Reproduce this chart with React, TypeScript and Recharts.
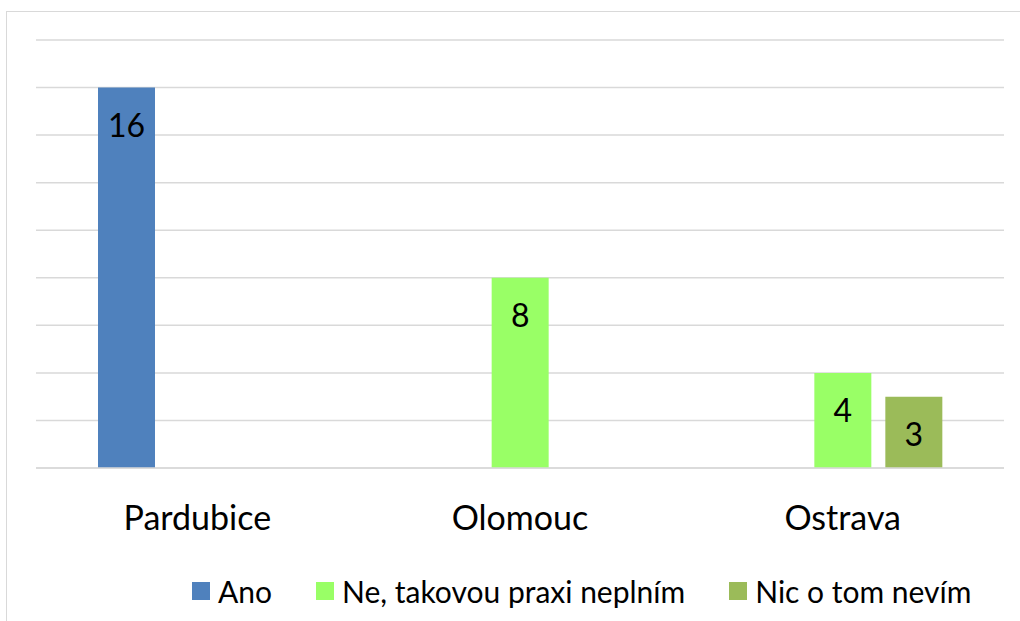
import React from 'react';
import { BarChart, Bar, XAxis, YAxis, CartesianGrid, Legend, LabelList } from 'recharts';

const categories = ['Pardubice', 'Olomouc', 'Ostrava'];
const anoValues = [16, null, null];
const neValues = [null, 8, 4];
const nicValues = [null, null, 3];
const yTicks = [0, 2, 4, 6, 8, 10, 12, 14, 16, 18];

const seriesNames = ['Ano', 'Ne, takovou praxi neplním', 'Nic o tom nevím'];
const seriesKeys = ['ano', 'ne', 'nic'];
const seriesColors = ['#4F81BD', '#99FF66', '#9BBB59'];

const data = categories.map((name, i) => ({
  name,
  ano: anoValues[i],
  ne: neValues[i],
  nic: nicValues[i],
}));

const FONT = 'Lato, "Liberation Sans", sans-serif';

const ValueLabel = (props: any) => {
  const { x, y, width, value } = props;
  if (value === null || value === undefined) return null;
  return (
    <text x={x + width / 2} y={y + 49} textAnchor="middle" fontSize={32} fontFamily={FONT} fill="#000">
      {value}
    </text>
  );
};

const CategoryTick = (props: any) => {
  const { x, y, payload } = props;
  return (
    <text x={x} y={y + 54} textAnchor="middle" fontSize={34} fontFamily={FONT} fill="#000">
      {payload.value}
    </text>
  );
};

const LegendContent = () => (
  <div
    style={{
      display: 'flex',
      alignItems: 'center',
      paddingLeft: 192,
      fontFamily: FONT,
      fontSize: 30,
      height: 40,
      width: 1020,
      boxSizing: 'border-box',
      whiteSpace: 'nowrap',
    }}
  >
    {seriesNames.map((n, i) => (
      <div key={n} style={{ display: 'flex', alignItems: 'center', marginRight: 44, flexShrink: 0 }}>
        <span style={{ display: 'inline-block', width: 18, height: 18, background: seriesColors[i], marginRight: 8 }} />
        <span style={{ color: '#000' }}>{n}</span>
      </div>
    ))}
  </div>
);

export default function App() {
  return (
    <div style={{ position: 'absolute', left: 0, top: 0, width: 1020, height: 621, overflow: 'hidden', background: '#fff' }}>
      <div style={{ position: 'absolute', left: 6, top: 11, width: 1100, height: 700, border: '1px solid #D9D9D9' }} />
      <BarChart
        width={1020}
        height={621}
        data={data}
        margin={{ top: 40, right: 16, left: 36, bottom: 10 }}
        barSize={57}
        barGap={14}
      >
        <CartesianGrid vertical={false} stroke="#D9D9D9" strokeWidth={1.5} />
        <XAxis
          dataKey="name"
          height={103}
          tickLine={false}
          axisLine={{ stroke: '#D9D9D9', strokeWidth: 1.5 }}
          tick={<CategoryTick />}
          interval={0}
        />
        <YAxis hide domain={[0, 18]} ticks={yTicks} />
        <Legend
          verticalAlign="bottom"
          height={40}
          content={<LegendContent />}
          wrapperStyle={{ left: 0, width: 1020 }}
        />
        {seriesKeys.map((k, i) => (
          <Bar key={k} dataKey={k} name={seriesNames[i]} fill={seriesColors[i]} isAnimationActive={false}>
            <LabelList dataKey={k} content={<ValueLabel />} />
          </Bar>
        ))}
      </BarChart>
    </div>
  );
}
